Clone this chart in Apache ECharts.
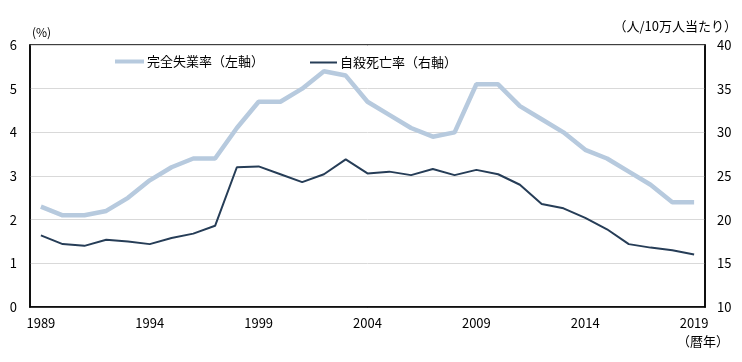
<!DOCTYPE html>
<html><head><meta charset="utf-8">
<script src="https://cdn.jsdelivr.net/npm/echarts@6/dist/echarts.min.js"></script>
<style>html,body{margin:0;padding:0;background:#fff}#c{width:742px;height:362px}</style>
</head><body><div id="c"></div>
<script>
const years = ['1989','1990','1991','1992','1993','1994','1995','1996','1997','1998','1999','2000','2001','2002','2003','2004','2005','2006','2007','2008','2009','2010','2011','2012','2013','2014','2015','2016','2017','2018','2019'];
const unemployment = [2.3,2.1,2.1,2.2,2.5,2.9,3.2,3.4,3.4,4.1,4.7,4.7,5.0,5.4,5.3,4.7,4.4,4.1,3.9,4.0,5.1,5.1,4.6,4.3,4.0,3.6,3.4,3.1,2.8,2.4,2.4];
const suicide = [18.2,17.2,17.0,17.7,17.5,17.2,17.9,18.4,19.3,26.0,26.1,25.2,24.3,25.2,26.9,25.3,25.5,25.1,25.8,25.1,25.7,25.2,24.0,21.8,21.3,20.2,18.9,17.2,16.8,16.5,16.0];
const leftTicks = {min:0,max:6,interval:1};
const rightTicks = {min:10,max:40,interval:5};
const seriesNames = ['完全失業率（左軸）','自殺死亡率（右軸）'];

const font = '"Noto Sans CJK JP", sans-serif';
const chart = echarts.init(document.getElementById('c'));
const legendText = {fontFamily:font,fontSize:13,color:'#000',padding:[0,0,0,-2]};
chart.setOption({
  animation:false,
  textStyle:{fontFamily:font},
  grid:{left:30,right:37,top:45,bottom:55,show:true,borderColor:'#000',borderWidth:1.5,backgroundColor:'transparent'},
  legend:[{
    top:50,left:110,itemWidth:29,itemHeight:4,icon:'rect',
    textStyle:legendText,data:[seriesNames[0]]
  },{
    top:51,left:305,itemWidth:27,itemHeight:2,icon:'rect',
    textStyle:legendText,data:[seriesNames[1]]
  }],
  xAxis:{
    type:'category',data:years,boundaryGap:true,
    axisLine:{lineStyle:{color:'#000',width:1.5}},
    axisTick:{show:false},
    axisLabel:{interval:4,color:'#000',fontSize:13,margin:10,fontFamily:font}
  },
  yAxis:[{
    type:'value',min:leftTicks.min,max:leftTicks.max,interval:leftTicks.interval,
    axisLine:{show:true,lineStyle:{color:'#000',width:1.5}},
    axisTick:{show:false},
    axisLabel:{color:'#000',fontSize:13,margin:13,fontFamily:font},
    splitLine:{lineStyle:{color:'#d9d9d9',width:1}}
  },{
    type:'value',min:rightTicks.min,max:rightTicks.max,interval:rightTicks.interval,
    axisLine:{show:true,lineStyle:{color:'#000',width:1.5}},
    axisTick:{show:false},
    axisLabel:{color:'#000',fontSize:13,margin:12,fontFamily:font},
    splitLine:{show:false}
  }],
  series:[{
    name:seriesNames[0],type:'line',yAxisIndex:0,data:unemployment,
    symbol:'none',lineStyle:{color:'#b7cade',width:4.5},itemStyle:{color:'#b7cade'}
  },{
    name:seriesNames[1],type:'line',yAxisIndex:1,data:suicide,
    symbol:'none',lineStyle:{color:'#263d57',width:2},itemStyle:{color:'#263d57'}
  }],
  graphic:[
    {type:'text',left:32,top:26,style:{text:'(%)',font:'12px '+font,fill:'#000'}},
    {type:'text',right:5,top:20,style:{text:'（人/10万人当たり）',font:'13px '+font,fill:'#000'}},
    {type:'text',left:677,top:335,style:{text:'（暦年）',font:'13px '+font,fill:'#000'}}
  ]
});
</script></body></html>
